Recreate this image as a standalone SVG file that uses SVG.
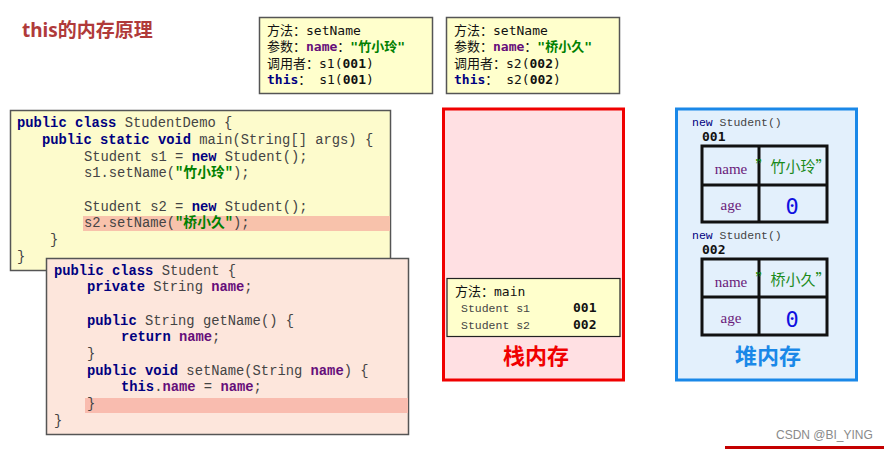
<svg xmlns="http://www.w3.org/2000/svg" width="884" height="449" viewBox="0 0 884 449">
<style>
.code{font-family:"Liberation Mono","Noto Sans CJK SC",monospace;font-size:13.8px;fill:#444}
.kw{fill:#000080;font-weight:bold}
.fld{fill:#660e7a;font-weight:bold}
.str{fill:#008000;font-weight:bold}
.info{font-family:"DejaVu Sans Mono","Noto Sans CJK SC",monospace;font-size:13px;fill:#111}
.b{font-weight:bold}
.box{fill:#ffffcc;stroke:#555;stroke-width:1.5}
.cell{fill:none;stroke:#111;stroke-width:3}
.small{font-family:"Liberation Mono",monospace;font-size:11.5px;fill:#444}
.tn{font-family:"Liberation Serif",serif;font-size:15px;fill:#6a1b7a;text-anchor:middle}
.tv{font-family:"Noto Sans CJK SC",sans-serif;font-size:15px;fill:#1a8a1a;text-anchor:middle}
.zero{font-family:"DejaVu Sans Mono",monospace;font-size:22px;fill:#1010e0;text-anchor:middle}
.big{font-family:"Noto Sans CJK SC",sans-serif;font-size:22px;font-weight:bold;text-anchor:middle}
</style>
<rect width="884" height="449" fill="#fff"/>
<text x="22" y="37" font-family="'Noto Sans','Noto Sans CJK SC',sans-serif" font-size="19" font-weight="bold" fill="#b03a3a">this的内存原理</text>

<g id="call1">
<rect class="box" x="259.5" y="17.5" width="173" height="76"/>
<text class="info" x="267" y="35">方法：setName</text>
<text class="info" x="267" y="51">参数：<tspan class="fld">name</tspan>：<tspan class="str">"竹小玲"</tspan></text>
<text class="info" x="267" y="68">调用者：s1(<tspan class="b">001</tspan>)</text>
<text class="info" x="267" y="84"><tspan class="kw">this</tspan>：  s1(<tspan class="b">001</tspan>)</text>
</g>
<g id="call2">
<rect class="box" x="446.5" y="17.5" width="173" height="76"/>
<text class="info" x="454" y="35">方法：setName</text>
<text class="info" x="454" y="51">参数：<tspan class="fld">name</tspan>：<tspan class="str">"桥小久"</tspan></text>
<text class="info" x="454" y="68">调用者：s2(<tspan class="b">002</tspan>)</text>
<text class="info" x="454" y="84"><tspan class="kw">this</tspan>：  s2(<tspan class="b">002</tspan>)</text>
</g>

<g id="demo">
<rect x="10.5" y="110.5" width="380" height="160" fill="#fdfbcc" stroke="#555" stroke-width="1.5"/>
<rect x="83" y="216" width="307" height="15" fill="#f8c2ab"/>
<text class="code" x="17" y="127"><tspan class="kw">public class</tspan> StudentDemo {</text>
<text class="code" x="42" y="144"><tspan class="kw">public static void</tspan> main(String[] args) {</text>
<text class="code" x="84" y="161">Student s1 = <tspan class="kw">new</tspan> Student();</text>
<text class="code" x="84" y="177">s1.setName(<tspan class="str">"竹小玲"</tspan>);</text>
<text class="code" x="84" y="211">Student s2 = <tspan class="kw">new</tspan> Student();</text>
<text class="code" x="84" y="227">s2.setName(<tspan class="str">"桥小久"</tspan>);</text>
<text class="code" x="50" y="244">}</text>
<text class="code" x="17" y="261">}</text>
</g>

<g id="student">
<rect x="46.5" y="258.5" width="362" height="176" fill="#fde6dc" stroke="#555" stroke-width="1.5"/>
<rect x="85" y="398" width="323" height="15" fill="#f9bcaf"/>
<text class="code" x="54" y="275"><tspan class="kw">public class</tspan> Student {</text>
<text class="code" x="87" y="291"><tspan class="kw">private</tspan> String <tspan class="fld">name</tspan>;</text>
<text class="code" x="87" y="325"><tspan class="kw">public</tspan> String getName() {</text>
<text class="code" x="121" y="341"><tspan class="kw">return</tspan> <tspan class="fld">name</tspan>;</text>
<text class="code" x="87" y="358">}</text>
<text class="code" x="87" y="375"><tspan class="kw">public void</tspan> setName(String <tspan class="fld">name</tspan>) {</text>
<text class="code" x="121" y="391"><tspan class="kw">this</tspan>.<tspan class="fld">name</tspan> = <tspan class="fld">name</tspan>;</text>
<text class="code" x="87" y="408">}</text>
<text class="code" x="54" y="425">}</text>
</g>

<g id="stack">
<rect x="443.5" y="109" width="180" height="271" fill="#ffe0e3" stroke="#f00000" stroke-width="3"/>
<rect x="447" y="278.5" width="173" height="58" fill="#ffffcc" stroke="#222" stroke-width="1.2"/>
<text class="info" x="455" y="296">方法：main</text>
<text class="small" x="461" y="312">Student s1</text>
<text class="info b" x="573" y="312">001</text>
<text class="small" x="461" y="329">Student s2</text>
<text class="info b" x="573" y="329">002</text>
<text class="big" x="536" y="364" fill="#f00000">栈内存</text>
</g>

<g id="heap">
<rect x="676.5" y="109" width="180" height="271" fill="#e3f0fc" stroke="#1a88e8" stroke-width="3"/>
<text class="small" x="692" y="126"><tspan fill="#000080">new</tspan> Student()</text>
<text class="info b" x="702" y="141">001</text>
<rect class="cell" x="702" y="146" width="125" height="76"/>
<line class="cell" x1="759" y1="146" x2="759" y2="222"/>
<line class="cell" x1="702" y1="185" x2="827" y2="185"/>
<text class="tn" x="731" y="174">name</text>
<text class="tv" x="793" y="172">”竹小玲”</text>
<text class="tn" x="731" y="210">age</text>
<text class="zero" x="792" y="214">0</text>
<text class="small" x="692" y="239"><tspan fill="#000080">new</tspan> Student()</text>
<text class="info b" x="702" y="254">002</text>
<rect class="cell" x="702" y="259" width="125" height="76"/>
<line class="cell" x1="759" y1="259" x2="759" y2="335"/>
<line class="cell" x1="702" y1="297" x2="827" y2="297"/>
<text class="tn" x="731" y="287">name</text>
<text class="tv" x="793" y="285">”桥小久”</text>
<text class="tn" x="731" y="323">age</text>
<text class="zero" x="792" y="327">0</text>
<text class="big" x="768" y="364" fill="#1a88e8">堆内存</text>
</g>

<rect x="725" y="446" width="159" height="3" fill="#c40000"/>
<text x="776" y="439" font-family="'Liberation Sans',sans-serif" font-size="12" fill="#8a8a8a">CSDN @BI_YING</text>
</svg>
